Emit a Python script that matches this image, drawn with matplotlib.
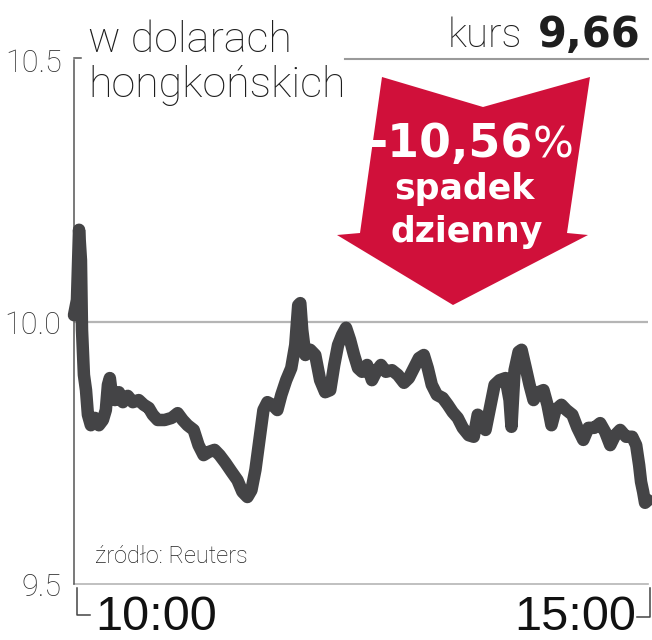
import matplotlib
matplotlib.use('Agg')
from matplotlib import pyplot as plt
from matplotlib.patches import Polygon
from matplotlib.lines import Line2D

# trading minutes since open and price in HKD
minutes = [0, 1.7, 2.9, 4.0, 4.6, 5.7, 6.9, 8.0, 9.7, 12.0, 14.3, 16.6, 18.3, 19.5, 20.6,
           21.8, 23.5, 25.8, 28.1, 30.9, 33.8, 37.2, 40.1, 43.0, 45.3, 48.1, 52.1, 56.2,
           59.6, 62.5, 65.3, 68.8, 71.6, 74.5, 77.4, 80.8, 83.7, 87.1, 90.6, 94.0, 96.8,
           99.7, 102.0, 104.3, 106.6, 108.9, 111.2, 114.0, 116.9, 119.2, 122.0, 124.9,
           127.2, 128.9, 130.1, 131.2, 133.0, 135.8, 138.7, 141.5, 144.4, 147.3, 149.6,
           151.8, 154.1, 156.4, 158.7, 161.0, 163.3, 165.6, 168.5, 171.3, 174.2, 176.5,
           179.3, 182.8, 186.2, 189.7, 192.5, 195.4, 198.3, 201.1, 203.4, 205.7, 208.6,
           212.0, 214.9, 217.7, 220.6, 223.5, 226.9, 229.8, 232.1, 234.4, 236.6, 238.9,
           241.8, 244.7, 248.1, 250.4, 251.5, 253.3, 255.6, 257.3, 259.6, 261.9, 264.2,
           267.0, 269.9, 272.2, 274.5, 276.8, 280.2, 283.1, 286.5, 289.4, 292.8, 295.7,
           299.1, 302.5, 305.4, 308.3, 311.1, 314.0, 317.4, 320.9, 323.2, 324.9, 326.0,
           327.2, 328.3, 330.0]
price = [10.013, 10.042, 10.176, 10.118, 9.985, 9.899, 9.870, 9.823, 9.803, 9.817, 9.803,
         9.813, 9.832, 9.880, 9.893, 9.861, 9.851, 9.866, 9.847, 9.859, 9.847, 9.851, 9.842,
         9.836, 9.823, 9.813, 9.813, 9.817, 9.826, 9.813, 9.803, 9.794, 9.765, 9.746, 9.752,
         9.756, 9.746, 9.731, 9.714, 9.698, 9.676, 9.666, 9.679, 9.718, 9.775, 9.832, 9.847,
         9.842, 9.832, 9.861, 9.889, 9.912, 9.956, 10.032, 10.036, 9.985, 9.937, 9.947,
         9.937, 9.889, 9.866, 9.870, 9.918, 9.956, 9.975, 9.989, 9.966, 9.937, 9.912, 9.905,
         9.918, 9.889, 9.908, 9.918, 9.905, 9.908, 9.899, 9.884, 9.893, 9.912, 9.931, 9.937,
         9.912, 9.880, 9.861, 9.855, 9.842, 9.828, 9.817, 9.798, 9.784, 9.781, 9.823, 9.817,
         9.794, 9.832, 9.880, 9.889, 9.893, 9.851, 9.800, 9.908, 9.943, 9.947, 9.914, 9.880,
         9.851, 9.866, 9.870, 9.842, 9.803, 9.832, 9.842, 9.832, 9.823, 9.798, 9.775, 9.798,
         9.798, 9.807, 9.790, 9.765, 9.784, 9.794, 9.781, 9.781, 9.765, 9.727, 9.695, 9.676,
         9.655, 9.660]

y_ticks = [9.5, 10.0, 10.5]
y_labels = ['9.5', '10.0', '10.5']
x_labels = ['10:00', '15:00']
title_lines = ['w dolarach', 'hongkońskich']
last_price = '9,66'
change = '-10,56'
source = 'źródło: Reuters'

LIGHT = ['Roboto', 'Liberation Sans', 'DejaVu Sans']
SANS = ['Liberation Sans', 'DejaVu Sans']
RED = '#d0103a'
LINE = '#444446'

W, H = 652, 640
def fx(px):
    return px / W
def fy(py):
    return 1 - py / H

fig = plt.figure(figsize=(W / 100, H / 100), dpi=100)
ax = fig.add_axes([fx(74), fy(584), fx(648) - fx(74), fy(60) - fy(584)])
ax.set_xlim(0, 330)
ax.set_ylim(9.5, 10.5)
for s in ['top', 'right', 'bottom']:
    ax.spines[s].set_visible(False)
ax.spines['left'].set_color('#555555')
ax.spines['left'].set_linewidth(1.1)

ax.axhline(10.0, color='#b5b5b5', lw=1.6, zorder=1)
ax.axhline(9.5, color='#b5b5b5', lw=1.2, zorder=1, clip_on=False)
ax.plot(minutes, price, color=LINE, lw=9, solid_joinstyle='round',
        solid_capstyle='round', zorder=3, clip_on=False)

ax.set_xticks([])
ax.set_yticks(y_ticks, y_labels)
ax.tick_params(axis='y', length=0, pad=9, labelsize=22, labelcolor='#333333')
for lbl in ax.get_yticklabels():
    lbl.set_family(LIGHT)
    lbl.set_fontweight('light')

# small tick at the top of the axis and brackets under the time labels
fig.add_artist(Line2D([fx(74), fx(81)], [fy(58), fy(58)], color='#555555', lw=1.1))
fig.add_artist(Line2D([fx(77), fx(77), fx(90)], [fy(588), fy(615), fy(615)],
                      color='#444444', lw=1.1))
fig.add_artist(Line2D([fx(650), fx(650), fx(637)], [fy(588), fy(617), fy(617)],
                      color='#444444', lw=1.1))

# title
fig.text(fx(88), fy(52), title_lines[0], family=LIGHT, fontweight='light',
         fontsize=31, color='#1e1e1e')
fig.text(fx(88), fy(97), title_lines[1], family=LIGHT, fontweight='light',
         fontsize=31, color='#1e1e1e')

# last price
fig.text(fx(522), fy(47), 'kurs', family=LIGHT, fontweight='light', fontsize=29,
         color='#1e1e1e', ha='right')
fig.text(fx(538), fy(47), last_price, family='DejaVu Sans', fontweight='bold',
         fontsize=30, color='#1e1e1e')
fig.add_artist(Line2D([fx(345), fx(648)], [fy(59), fy(59)], color='#9a9a9a', lw=1.5))

# red arrow
arrow = [(382, 77), (483, 107), (590, 77), (567, 233), (588, 235), (453, 305),
         (337, 235), (360, 233)]
fig.add_artist(Polygon([(fx(x), fy(y)) for x, y in arrow], closed=True,
                       facecolor=RED, edgecolor='none', transform=fig.transFigure))
fig.text(fx(533), fy(157), change, family='DejaVu Sans', fontweight='bold',
         fontsize=33, color='white', ha='right')
fig.text(fx(533), fy(157), '%', family='DejaVu Sans', fontsize=31, color='white')
fig.text(fx(464), fy(199), 'spadek', family='DejaVu Sans', fontweight='bold',
         fontsize=25, color='white', ha='center')
fig.text(fx(467), fy(242), 'dzienny', family='DejaVu Sans', fontweight='bold',
         fontsize=25, color='white', ha='center')

fig.text(fx(95), fy(563), source, family=LIGHT, fontweight='light', fontsize=17,
         color='#222222')

fig.text(fx(95), fy(630), x_labels[0], family=SANS, fontsize=35, color='#111111')
fig.text(fx(636), fy(630), x_labels[1], family=SANS, fontsize=35, color='#111111',
         ha='right')

fig.savefig('out.png', dpi=100)
